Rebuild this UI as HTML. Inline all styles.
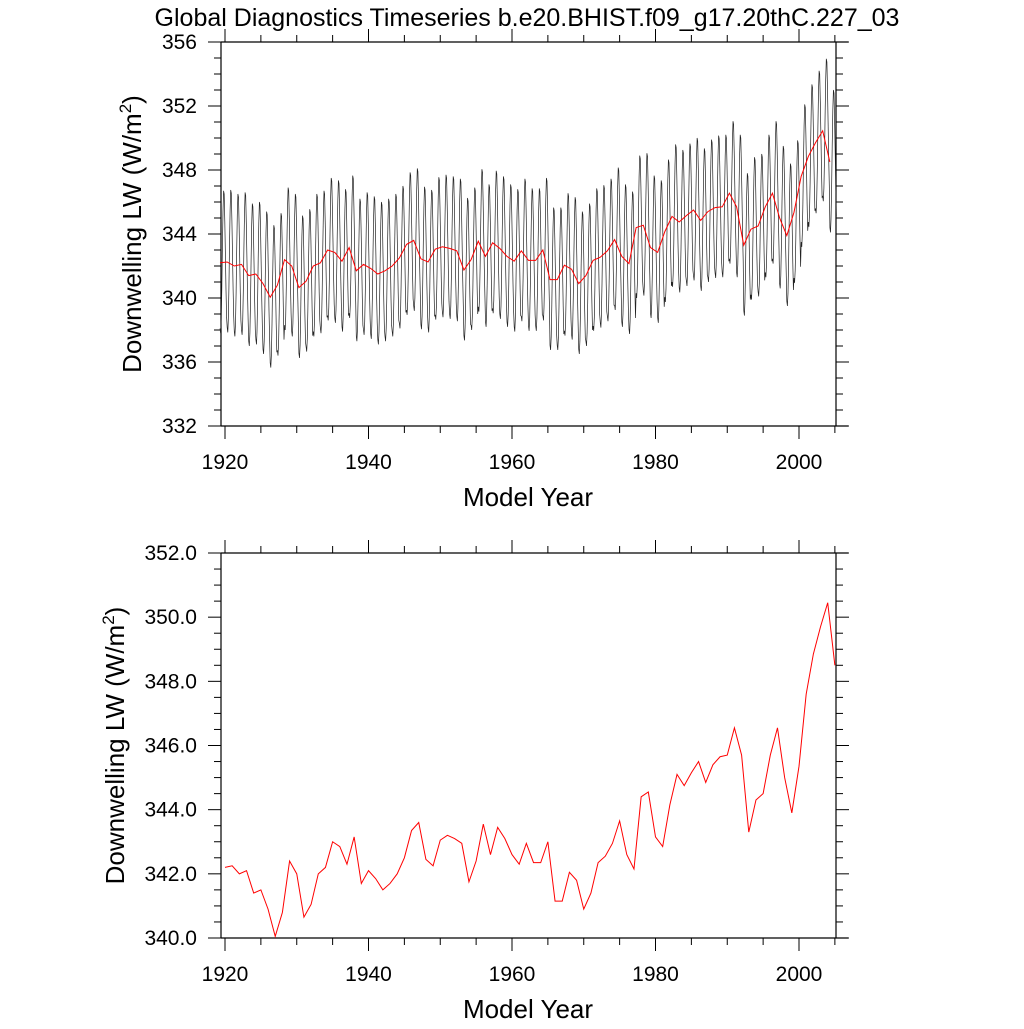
<!DOCTYPE html>
<html><head><meta charset="utf-8"><style>
html,body{margin:0;padding:0;background:#fff;}
svg text{font-family:"Liberation Sans",sans-serif;fill:#000;}
</style></head><body>
<svg id="c" width="1024" height="1024" viewBox="0 0 1024 1024" xmlns="http://www.w3.org/2000/svg">
<text x="527" y="26" font-size="25" text-anchor="middle">Global Diagnostics Timeseries b.e20.BHIST.f09_g17.20thC.227_03</text>
</svg>
<script>
const years=[];for(let y=1920;y<=2005;y++)years.push(y);
const annual=[342.2,342.25,342.0,342.1,341.4,341.5,340.9,340.05,340.8,342.4,342.0,340.65,341.05,342.0,342.2,343.0,342.85,342.3,343.15,341.7,
342.1,341.85,341.5,341.7,342.0,342.5,343.35,343.6,342.45,342.25,343.05,343.2,343.1,342.95,341.75,342.4,343.55,342.6,343.45,343.1,
342.6,342.3,342.95,342.35,342.35,343.0,341.15,341.15,342.05,341.8,340.9,341.4,342.35,342.55,342.95,343.65,342.6,342.15,344.4,344.55,
343.15,342.85,344.15,345.1,344.75,345.15,345.5,344.85,345.4,345.65,345.7,346.55,345.7,343.3,344.3,344.5,345.7,346.55,345.0,343.9,
345.35,347.6,348.85,349.7,350.45,348.5];
const climatology=[-4.1,-4.4,-3.6,-1.7,1.0,3.2,4.5,4.3,2.6,0.5,-1.7,-3.4];
const xTicks=[1920,1940,1960,1980,2000];
const topYTicks=[332,336,340,344,348,352,356];
const botYTicks=[340,342,344,346,348,350,352];
const NS="http://www.w3.org/2000/svg";
const svg=document.getElementById('c');
function mk(t,a,p){const e=document.createElementNS(NS,t);for(const k in a)e.setAttribute(k,a[k]);(p||svg).appendChild(e);return e;}
const L=221,R=836,RE=848;
const xs=y=>225+(y-1920)*7.175;
const TOP_OFFSET=-0.7;
function panel(top,bot,ymin,ymax,yt,minorStep,fmt,name,titleX){
  const g=mk('g',{});
  
  
  const ys=v=>bot-(v-ymin)/(ymax-ymin)*(bot-top);
  mk('line',{x1:L,x2:RE,y1:top,y2:top,stroke:'#000','stroke-width':1.2},g);
  mk('line',{x1:L,x2:RE,y1:bot,y2:bot,stroke:'#000','stroke-width':1.2},g);
  mk('line',{x1:L,x2:L,y1:top,y2:bot,stroke:'#000','stroke-width':1.2},g);
  mk('line',{x1:R,x2:R,y1:top,y2:bot,stroke:'#000','stroke-width':1.2},g);
  for(let y=1920;y<=2005;y+=5){const x=xs(y),len=y%20==0?13:7;
    mk('line',{x1:x,x2:x,y1:bot,y2:bot+len,stroke:'#000'},g);mk('line',{x1:x,x2:x,y1:top,y2:top-len,stroke:'#000'},g);}
  xTicks.forEach(y=>{const t=mk('text',{x:xs(y),y:bot+43,'font-size':21,'text-anchor':'middle'},g);t.textContent=y;
    });
  for(let v=ymin;v<=ymax+1e-6;v+=minorStep){const y=ys(v),major=yt.some(t=>Math.abs(t-v)<1e-6),len=major?13:7;
    mk('line',{x1:L,x2:L-len,y1:y,y2:y,stroke:'#000'},g);mk('line',{x1:R,x2:R+len,y1:y,y2:y,stroke:'#000'},g);}
  yt.forEach(v=>{const t=mk('text',{x:L-24,y:ys(v)+7,'font-size':21,'text-anchor':'end'},g);t.textContent=fmt(v);
    });
  const xl=mk('text',{x:528,y:bot+80,'font-size':26,'text-anchor':'middle'},g);xl.textContent='Model Year';
  
  const cy=(top+bot)/2,cx=titleX;
  const yl=mk('text',{x:cx,y:cy,'font-size':26,'text-anchor':'middle',transform:`rotate(-90 ${cx} ${cy})`},g);
  yl.innerHTML='Downwelling LW (W/m<tspan dy="-10" font-size="17">2</tspan><tspan dy="10">)</tspan>';
  
  return ys;
}
const ysT=panel(42,426,332,356,topYTicks,1,v=>String(v),'top-panel',141);
let mp=[];
years.forEach((y,i)=>climatology.forEach((c,m)=>mp.push(xs(y+m/12+TOP_OFFSET).toFixed(1)+','+ysT(annual[i]+c).toFixed(1))));
const ml=mk('polyline',{points:mp.join(' '),fill:'none',stroke:'#222','stroke-width':0.7});

const al=mk('polyline',{points:years.map((y,i)=>xs(y+TOP_OFFSET)+','+ysT(annual[i])).join(' '),fill:'none',stroke:'#f00','stroke-width':1});

const ysB=panel(553,938,340,352,botYTicks,0.5,v=>v.toFixed(1),'bottom-panel',124);
const bl=mk('polyline',{points:years.map((y,i)=>xs(y)+','+ysB(annual[i])).join(' '),fill:'none',stroke:'#f00','stroke-width':1});

</script>
</body></html>
